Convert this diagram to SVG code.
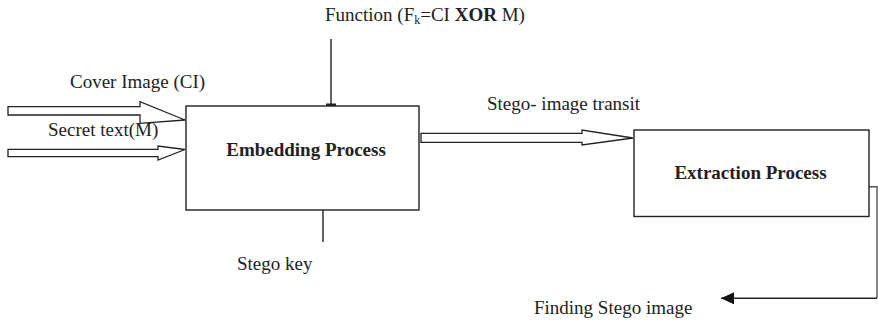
<svg xmlns="http://www.w3.org/2000/svg" width="878" height="322" viewBox="0 0 878 322">
  <style>
    .t { font-family: "Liberation Serif", "Times New Roman", serif; font-size: 19px; fill: #222; }
    .b { font-weight: bold; }
    .box { fill: #fff; stroke: #222; stroke-width: 1.4; }
    .ln { fill: none; stroke: #222; stroke-width: 1.4; }
    .hollow { fill: #fff; stroke: #222; stroke-width: 1.3; stroke-linejoin: miter; }
  </style>
  <defs>
    <marker id="ah" markerWidth="14" markerHeight="12" refX="13" refY="6" orient="auto" markerUnits="userSpaceOnUse">
      <path d="M0,0 L13,6 L0,12 Z" fill="#111"/>
    </marker>
  </defs>

  <g id="connectors">
    <polygon class="hollow" points="8,106.7 140,106.7 140,101.7 185,120 140,123.3 140,115 8,115"/>
    <polygon class="hollow" points="8,149.3 158,149.3 158,146 185,149.5 158,160 158,156.7 8,156.7"/>
    <line class="ln" x1="331" y1="39" x2="331" y2="105"/>
    <rect x="326" y="103.5" width="10" height="2.5" fill="#222"/>
    <line class="ln" x1="323" y1="210" x2="323" y2="242"/>
    <polygon class="hollow" points="421,133.3 582,133.3 582,130 633,138 582,145 582,142.3 421,142.3"/>
    <polyline fill="none" stroke="#555" stroke-width="1.4" points="869,186.7 877,186.7 877,298.3"/>
    <line class="ln" x1="877" y1="298.3" x2="721" y2="298.3" marker-end="url(#ah)"/>
  </g>

  <g id="embedding">
    <rect class="box" x="186" y="106" width="233" height="104"/>
    <text class="t b" x="306" y="156" text-anchor="middle">Embedding Process</text>
  </g>

  <g id="extraction">
    <rect class="box" x="634" y="130" width="235" height="86.5"/>
    <text class="t b" x="750.5" y="179" text-anchor="middle">Extraction Process</text>
  </g>

  <g id="labels">
    <text class="t" x="70" y="88">Cover Image (CI)</text>
    <text class="t" x="48" y="136">Secret text(M)</text>
    <text class="t" x="325" y="21">Function (F<tspan font-size="12" dy="3">k</tspan><tspan dy="-3">=CI </tspan><tspan class="b">XOR</tspan> M)</text>
    <text class="t" x="487" y="110">Stego- image transit</text>
    <text class="t" x="237" y="270">Stego key</text>
    <text class="t" x="534" y="314">Finding Stego image</text>
  </g>
</svg>
